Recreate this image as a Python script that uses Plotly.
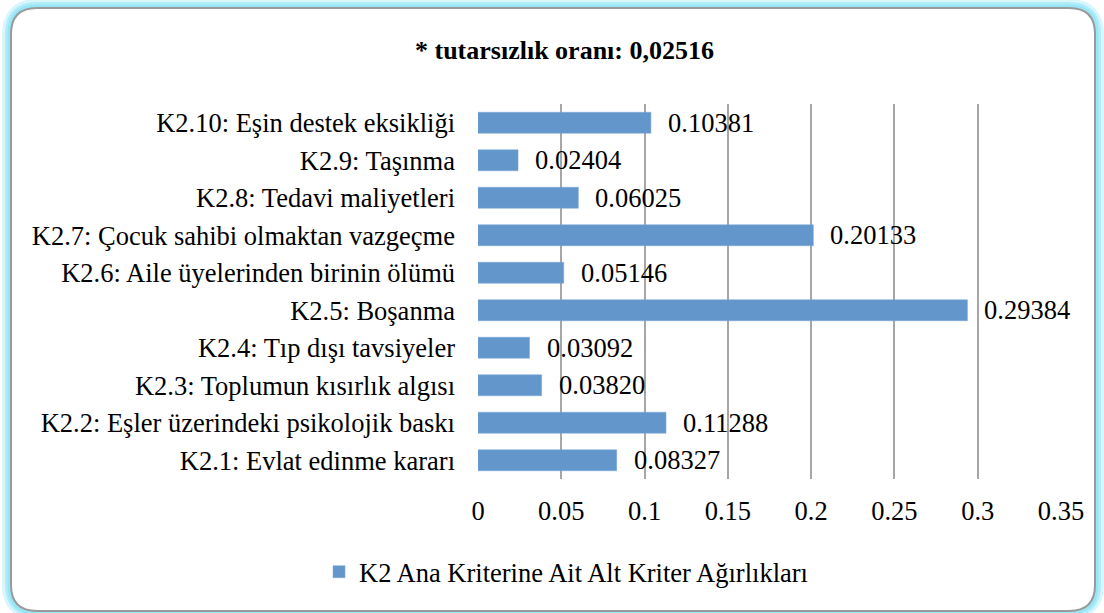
import plotly.graph_objects as go

categories = [
    "K2.1: Evlat edinme kararı",
    "K2.2: Eşler üzerindeki psikolojik baskı",
    "K2.3: Toplumun kısırlık algısı",
    "K2.4: Tıp dışı tavsiyeler",
    "K2.5: Boşanma",
    "K2.6: Aile üyelerinden birinin ölümü",
    "K2.7: Çocuk sahibi olmaktan vazgeçme",
    "K2.8: Tedavi maliyetleri",
    "K2.9: Taşınma",
    "K2.10: Eşin destek eksikliği",
]
values = [0.08327, 0.11288, 0.03820, 0.03092, 0.29384, 0.05146, 0.20133, 0.06025, 0.02404, 0.10381]
value_labels = ["0.08327", "0.11288", "0.03820", "0.03092", "0.29384", "0.05146", "0.20133", "0.06025", "0.02404", "0.10381"]
x_ticks = [0, 0.05, 0.1, 0.15, 0.2, 0.25, 0.3, 0.35]
x_tick_labels = ["0", "0.05", "0.1", "0.15", "0.2", "0.25", "0.3", "0.35"]
series_name = "K2 Ana Kriterine Ait Alt Kriter Ağırlıkları"
title_text = "* tutarsızlık oranı: 0,02516"

W, H = 1104, 613
L, R, T, B = 478, 1061, 104, 479
FONT = "Liberation Serif, Times New Roman, serif"
FS = 26.5

def px(x):
    return (x - L) / (R - L)

def py(y):
    return (B - y) / (B - T)

def rounded_path(x0, y0, x1, y1, r):
    pts = [
        ("M", (x0 + r, y0)),
        ("L", (x1 - r, y0)),
        ("Q", (x1, y0), (x1, y0 + r)),
        ("L", (x1, y1 - r)),
        ("Q", (x1, y1), (x1 - r, y1)),
        ("L", (x0 + r, y1)),
        ("Q", (x0, y1), (x0, y1 - r)),
        ("L", (x0, y0 + r)),
        ("Q", (x0, y0), (x0 + r, y0)),
    ]
    s = ""
    for p in pts:
        s += p[0] + " " + " ".join(f"{px(a):.5f},{py(b):.5f}" for a, b in p[1:]) + " "
    return s + "Z"

fig = go.Figure()
fig.add_trace(go.Bar(
    x=values, y=categories, orientation="h", name=series_name,
    marker=dict(color="#6397CC", line=dict(color="#7AA7D6", width=0.5)),
    showlegend=True,
))

for v, c, t in zip(values, categories, value_labels):
    fig.add_annotation(x=v, y=c, text=t, showarrow=False, xanchor="left",
                       xshift=15, font=dict(family=FONT, size=FS, color="black"))

shapes = []
for w, col in [(18, "rgba(180,238,250,0.5)"), (12, "rgba(160,232,248,0.7)"), (7, "rgba(150,228,247,0.9)")]:
    shapes.append(dict(type="path", xref="paper", yref="paper",
                       path=rounded_path(11, 8, 1095, 611, 26),
                       line=dict(color=col, width=w), layer="below"))
shapes.append(dict(type="path", xref="paper", yref="paper",
                   path=rounded_path(11, 8, 1095, 611, 26),
                   fillcolor="white", line=dict(color="#9A9A9A", width=2), layer="below"))
fig.update_layout(shapes=shapes)

fig.add_annotation(xref="paper", yref="paper", x=px(564), y=py(50), text="<b>" + title_text + "</b>",
                   showarrow=False, xanchor="center", yanchor="middle",
                   font=dict(family=FONT, size=FS - 0.5, color="black"))

fig.update_layout(
    width=W, height=H,
    margin=dict(l=L, r=W - R, t=T, b=H - B, pad=0),
    paper_bgcolor="white", plot_bgcolor="rgba(0,0,0,0)",
    font=dict(family=FONT, size=FS, color="black"),
    bargap=0.44,
    showlegend=True,
    legend=dict(orientation="h", x=px(566), xanchor="center", y=py(572), yanchor="middle",
                font=dict(family=FONT, size=FS, color="black"), bgcolor="rgba(0,0,0,0)",
                itemwidth=30),
    xaxis=dict(range=[0, 0.35], tickvals=x_ticks, ticktext=x_tick_labels,
               showgrid=True, gridcolor="#A6A6A6", gridwidth=1.5, zeroline=False,
               showline=False, ticks="", ticklabelstandoff=13,
               tickfont=dict(family=FONT, size=FS, color="black")),
    yaxis=dict(categoryorder="array", categoryarray=categories, showgrid=False,
               showline=False, ticks="", ticklabelstandoff=22,
               tickfont=dict(family=FONT, size=FS, color="black")),
)

fig.write_html("out.html", config={"displayModeBar": False},
               post_script="document.body.style.margin='0';document.body.style.overflow='hidden';")
